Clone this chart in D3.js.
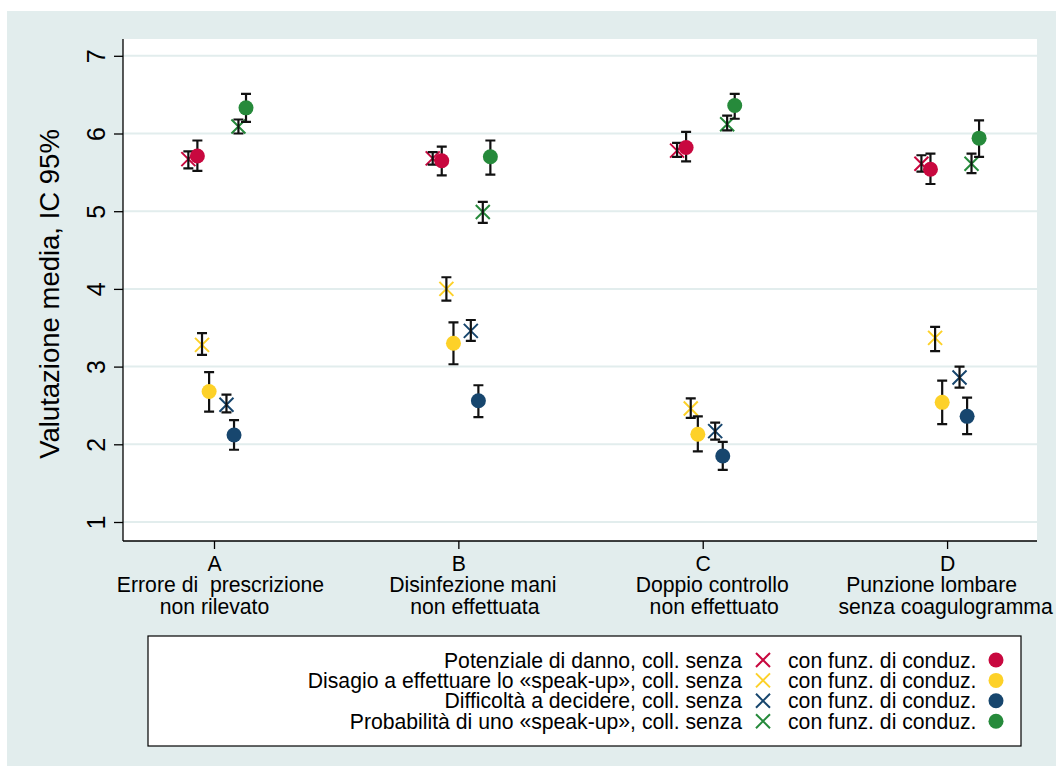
<!DOCTYPE html>
<html><head><meta charset="utf-8">
<script src="https://cdn.jsdelivr.net/npm/d3@7/dist/d3.min.js"></script>
<style>
html,body{margin:0;padding:0;background:#fff;}
svg{display:block;font-family:"Liberation Sans",Arial,Helvetica,sans-serif;}
</style></head>
<body><svg id="c" width="1056" height="766"></svg>
<script>
// ---- data ----
const categories = ["A", "B", "C", "D"];
const categoryLines = [
  ["Errore di  prescrizione", "non rilevato"],
  ["Disinfezione mani", "non effettuata"],
  ["Doppio controllo", "non effettuato"],
  ["Punzione lombare", "senza coagulogramma"]
];
const yTicks = [1, 2, 3, 4, 5, 6, 7];
const measures = [
  "Potenziale di danno",
  "Disagio a effettuare lo «speak-up»",
  "Difficoltà a decidere",
  "Probabilità di uno «speak-up»"
];
// "coll. senza" (X markers)
const potSenzaMean = [5.67, 5.68, 5.78, 5.61];
const potSenzaLo   = [5.55, 5.60, 5.70, 5.51];
const potSenzaHi   = [5.77, 5.76, 5.88, 5.72];
const disSenzaMean = [3.28, 4.00, 2.46, 3.37];
const disSenzaLo   = [3.15, 3.85, 2.34, 3.20];
const disSenzaHi   = [3.43, 4.15, 2.59, 3.51];
const difSenzaMean = [2.51, 3.46, 2.17, 2.86];
const difSenzaLo   = [2.41, 3.33, 2.06, 2.73];
const difSenzaHi   = [2.64, 3.60, 2.28, 3.00];
const proSenzaMean = [6.09, 4.99, 6.12, 5.61];
const proSenzaLo   = [6.00, 4.85, 6.04, 5.49];
const proSenzaHi   = [6.18, 5.12, 6.23, 5.74];
// "con funz. di conduz." (dots)
const potConMean = [5.71, 5.65, 5.82, 5.54];
const potConLo   = [5.52, 5.46, 5.64, 5.35];
const potConHi   = [5.91, 5.83, 6.02, 5.74];
const disConMean = [2.68, 3.30, 2.13, 2.54];
const disConLo   = [2.42, 3.03, 1.91, 2.26];
const disConHi   = [2.93, 3.57, 2.36, 2.82];
const difConMean = [2.12, 2.56, 1.85, 2.36];
const difConLo   = [1.93, 2.35, 1.67, 2.13];
const difConHi   = [2.31, 2.76, 2.03, 2.60];
const proConMean = [6.33, 5.70, 6.36, 5.94];
const proConLo   = [6.15, 5.47, 6.19, 5.70];
const proConHi   = [6.51, 5.91, 6.51, 6.17];

// ---- styling / layout ----
const colors = ["#c8083f", "#fdd128", "#17466e", "#268a3b"];
const offSenza = [-0.105, -0.049, 0.051, 0.100];
const offCon   = [-0.068, -0.020, 0.082, 0.131];
// horizontal shift (px) of the two description lines under each tick
const lineShift = [[6, 0], [14, 16], [9, 11], [-16, -2]];

const senza = [
  {m: potSenzaMean, lo: potSenzaLo, hi: potSenzaHi},
  {m: disSenzaMean, lo: disSenzaLo, hi: disSenzaHi},
  {m: difSenzaMean, lo: difSenzaLo, hi: difSenzaHi},
  {m: proSenzaMean, lo: proSenzaLo, hi: proSenzaHi}
];
const con = [
  {m: potConMean, lo: potConLo, hi: potConHi},
  {m: disConMean, lo: disConLo, hi: disConHi},
  {m: difConMean, lo: difConLo, hi: difConHi},
  {m: proConMean, lo: proConLo, hi: proConHi}
];

const svg = d3.select("#c");
const L = 123, R = 1037, T = 39, B = 541;
const FONT = "'Liberation Sans',Arial,Helvetica,sans-serif";

// outer background
svg.append("rect").attr("x", 7).attr("y", 11).attr("width", 1056 - 7).attr("height", 766 - 11).attr("fill", "#e2eded");
// plot region
svg.append("rect").attr("x", L).attr("y", T).attr("width", R - L).attr("height", B - T).attr("fill", "#fff");

const x = d3.scaleLinear().domain([0.6276, 4.368]).range([L, R]);
const y = d3.scaleLinear().domain([1, 7]).range([522, 55.8]);

// gridlines
svg.append("g").selectAll("line").data(yTicks).join("line")
  .attr("x1", L).attr("x2", R).attr("y1", d => y(d)).attr("y2", d => y(d))
  .attr("stroke", "#e2eded").attr("stroke-width", 2);

// y axis
const yAxis = svg.append("g").attr("transform", `translate(${L},0)`)
  .call(d3.axisLeft(y).tickValues(yTicks).tickSize(9).tickPadding(0).tickFormat(d3.format("d")));
yAxis.attr("font-size", null).attr("font-family", null);
yAxis.select(".domain").attr("d", `M0,${T}V${B}`).attr("stroke", "#000").attr("stroke-width", 1.3);
yAxis.selectAll(".tick line").attr("stroke", "#000").attr("stroke-width", 1.3);
yAxis.selectAll(".tick text")
  .attr("transform", "translate(-27.5,0) rotate(-90)")
  .attr("x", 0).attr("y", 0).attr("dy", "0.36em")
  .attr("text-anchor", "middle").attr("fill", "#000")
  .style("font-size", "25px").style("font-family", FONT);

// x axis
const xAxis = svg.append("g").attr("transform", `translate(0,${B})`)
  .call(d3.axisBottom(x).tickValues([1, 2, 3, 4]).tickSize(8).tickFormat(d => categories[d - 1]));
xAxis.attr("font-size", null).attr("font-family", null);
xAxis.select(".domain").attr("d", `M${L},0H${R}`).attr("stroke", "#000").attr("stroke-width", 1.3);
xAxis.selectAll(".tick line").attr("stroke", "#000").attr("stroke-width", 1.3);
xAxis.selectAll(".tick text").remove();
xAxis.selectAll(".tick").each(function(d) {
  const g = d3.select(this);
  const t = g.append("text").attr("text-anchor", "middle").attr("fill", "#000")
    .style("font-size", "21.2px").style("white-space", "pre").attr("xml:space", "preserve")
    .style("font-family", FONT);
  t.append("tspan").attr("x", 0).attr("y", 29.5).text(categories[d - 1]);
  categoryLines[d - 1].forEach((s, i) =>
    t.append("tspan").attr("x", lineShift[d - 1][i]).attr("y", 29.5 + (i + 1) * 21.5).text(s));
});

// y title
svg.append("text").attr("transform", `translate(59,${(T + B) / 2 + 4}) rotate(-90)`)
  .attr("text-anchor", "middle").style("font-size", "27.5px").attr("fill", "#000")
  .style("font-family", FONT)
  .text("Valutazione media, IC 95%");

// markers
const xs = 7;
function drawX(g, cx, cy, col, s) {
  g.append("path").attr("d", `M${cx - s},${cy - s}L${cx + s},${cy + s}M${cx - s},${cy + s}L${cx + s},${cy - s}`)
    .attr("stroke", col).attr("stroke-width", 2).attr("fill", "none");
}
const gX = svg.append("g"), gBars = svg.append("g"), gDots = svg.append("g");
function bar(cx, lo, hi) {
  const w = 5;
  gBars.append("path")
    .attr("d", `M${cx},${y(lo)}V${y(hi)}M${cx - w},${y(hi)}H${cx + w}M${cx - w},${y(lo)}H${cx + w}`)
    .attr("stroke", "#111").attr("stroke-width", 2.2).attr("fill", "none");
}
categories.forEach((c, ci) => {
  const k = ci + 1;
  senza.forEach((s, si) => {
    const cx = x(k + offSenza[si]);
    drawX(gX, cx, y(s.m[ci]), colors[si], xs);
    bar(cx, s.lo[ci], s.hi[ci]);
  });
  con.forEach((s, si) => {
    const cx = x(k + offCon[si]);
    bar(cx, s.lo[ci], s.hi[ci]);
    gDots.append("circle").attr("cx", cx).attr("cy", y(s.m[ci])).attr("r", 7.5).attr("fill", colors[si]);
  });
});

// legend
const lg = svg.append("g");
lg.append("rect").attr("x", 148).attr("y", 636).attr("width", 1021 - 148).attr("height", 746 - 636)
  .attr("fill", "#fff").attr("stroke", "#000").attr("stroke-width", 1.2);
measures.forEach((m, i) => {
  const cy = 660 + i * 20.4;
  lg.append("text").attr("x", 742).attr("y", cy).attr("dy", "0.36em").attr("text-anchor", "end")
    .style("font-size", "21.2px").style("font-family", FONT).attr("fill", "#000").text(m + ", coll. senza");
  drawX(lg, 763, cy, colors[i], 7);
  lg.append("text").attr("x", 788).attr("y", cy).attr("dy", "0.36em").attr("text-anchor", "start")
    .style("font-size", "21.2px").style("font-family", FONT).attr("fill", "#000").text("con funz. di conduz.");
  lg.append("circle").attr("cx", 996).attr("cy", cy).attr("r", 7.5).attr("fill", colors[i]);
});
</script></body></html>
